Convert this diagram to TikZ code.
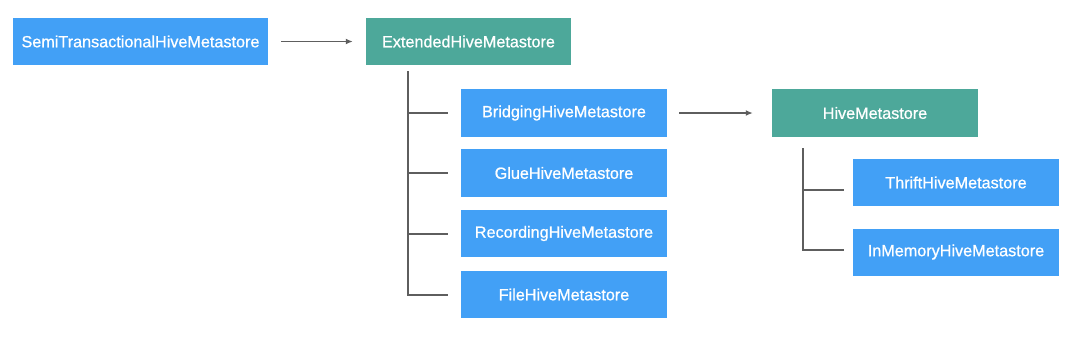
\documentclass[tikz,border=0pt]{standalone}
\usepackage{fontspec}
\setmainfont{Liberation Sans}
\newfontfamily\boxfont[FakeBold=0.8]{Liberation Sans}
\usetikzlibrary{arrows.meta}
\definecolor{boxblue}{HTML}{42A0F6}
\definecolor{boxteal}{HTML}{4DA89A}
\definecolor{linegray}{HTML}{5E5E5E}
\tikzset{
  bluebox/.style={rectangle, fill=boxblue, text=white, minimum width=206pt, minimum height=48pt, inner sep=0pt, font=\boxfont\fontsize{16.2}{19}\selectfont},
  tealbox/.style={bluebox, fill=boxteal},
  arr/.style={draw=linegray, line width=1.4pt, -{Latex[length=7pt,width=6pt]}},
  tree/.style={draw=linegray, line width=2pt}
}
\begin{document}
\begin{tikzpicture}[x=1pt,y=-1pt]
\useasboundingbox[fill=white] (0,0) rectangle (1080,338);
\node[bluebox, minimum width=255pt, minimum height=47pt] (semi) at (140.5,41.5) {SemiTransactionalHiveMetastore};
\node[tealbox, minimum width=205pt, minimum height=47pt] (ext) at (468.5,41.5) {ExtendedHiveMetastore};
\node[bluebox] (bridging) at (564,113) {BridgingHiveMetastore};
\node[bluebox] (glue) at (564,173) {GlueHiveMetastore};
\node[bluebox, minimum height=47pt] (recording) at (564,233.5) {RecordingHiveMetastore};
\node[bluebox, minimum height=47pt] (file) at (564,294.5) {FileHiveMetastore};
\node[tealbox] (hive) at (875,113) {HiveMetastore};
\node[bluebox, minimum height=47pt] (thrift) at (956,182.5) {ThriftHiveMetastore};
\node[bluebox, minimum height=47pt] (inmem) at (956,252) {InMemoryHiveMetastore};

\draw[arr] ([xshift=13pt]semi.east) -- ([xshift=-13pt]ext.west);
\draw[arr] ([xshift=12pt]bridging.east) -- ([xshift=-19pt]hive.west);

\coordinate (t1top) at (408,71);
\coordinate (t2top) at (803,148);
\coordinate (fb) at ([xshift=-13pt]file.west);
\coordinate (ib) at ([xshift=-9pt,yshift=2pt]inmem.west);
\coordinate (tb) at ([xshift=-9pt,yshift=-7pt]thrift.west);
\draw[tree] (t1top) |- (fb);
\draw[tree] (t1top |- bridging.west) -- ([xshift=-13pt]bridging.west);
\draw[tree] (t1top |- glue.west) -- ([xshift=-13pt]glue.west);
\draw[tree] (t1top |- recording.west) -- ([xshift=-13pt]recording.west);
\draw[tree] (t2top) |- (ib);
\draw[tree] (t2top |- tb) -- (tb);
\end{tikzpicture}
\end{document}
